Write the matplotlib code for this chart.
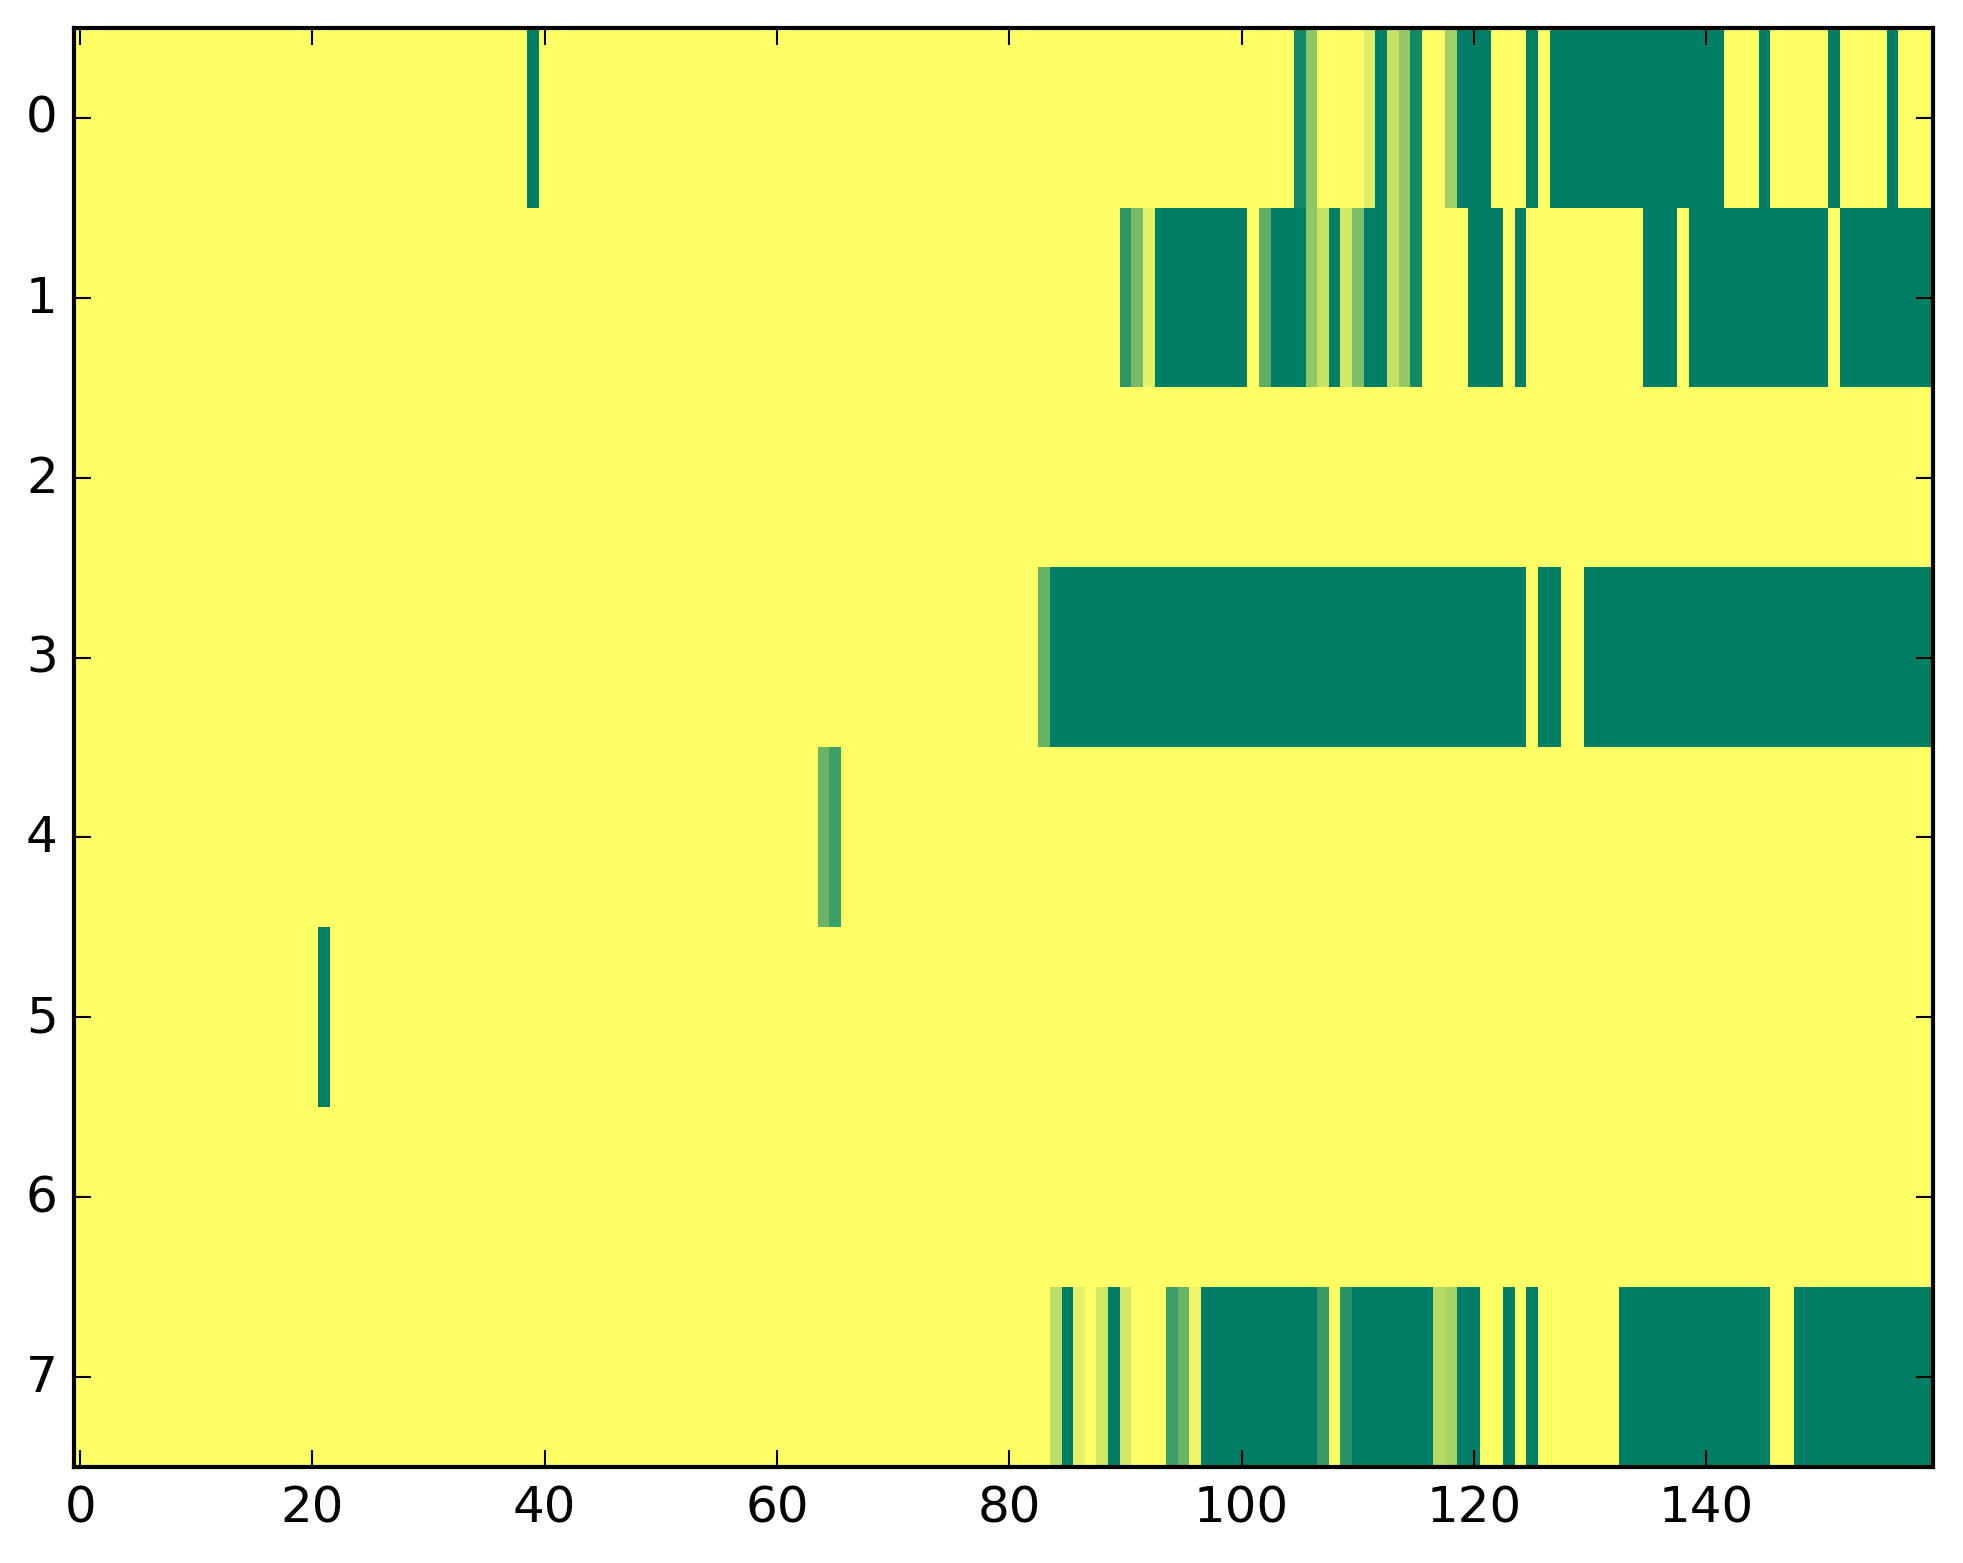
import matplotlib
matplotlib.use("Agg")
import matplotlib.pyplot as plt
import numpy as np

plt.style.use("classic")

n_rows = 8
n_cols = 160

# Cells with full intensity (value 1.0), per row
row0_full = [39, 112, 119, 120, 121, 125, 127, 128, 129, 130, 131, 132, 133, 134, 135,
             136, 137, 138, 139, 140, 141, 145, 151, 156]
row1_full = [93, 94, 95, 96, 97, 98, 99, 100, 103, 104, 105, 108, 111, 112, 120, 121, 122,
             124, 135, 136, 137, 139, 140, 141, 142, 143, 144, 145, 146, 147, 148, 149, 150,
             152, 153, 154, 155, 156, 157, 158, 159]
row2_full = []
row3_full = [84, 85, 86, 87, 88, 89, 90, 91, 92, 93, 94, 95, 96, 97, 98, 99, 100, 101, 102,
             103, 104, 105, 106, 107, 108, 109, 110, 111, 112, 113, 114, 115, 116, 117, 118,
             119, 120, 121, 122, 123, 124, 126, 127, 130, 131, 132, 133, 134, 135, 136, 137,
             138, 139, 140, 141, 142, 143, 144, 145, 146, 147, 148, 149, 150, 151, 152, 153,
             154, 155, 156, 157, 158, 159]
row4_full = []
row5_full = [21]
row6_full = []
row7_full = [85, 89, 97, 98, 99, 100, 101, 102, 103, 104, 105, 106, 110, 111, 112, 113, 114,
             115, 116, 119, 120, 123, 125, 133, 134, 135, 136, 137, 138, 139, 140, 141, 142,
             143, 144, 145, 148, 149, 150, 151, 152, 153, 154, 155, 156, 157, 158, 159]

# Cells with partial intensity, per row: {column: value}
row0_partial = {105: 0.92, 106: 0.44, 111: 0.13, 113: 0.23, 114: 0.42, 115: 0.92, 118: 0.36}
row1_partial = {90: 0.82, 91: 0.53, 92: 0.11, 102: 0.63, 106: 0.44, 107: 0.22, 109: 0.17,
                110: 0.50, 113: 0.23, 114: 0.42, 115: 0.92}
row2_partial = {}
row3_partial = {83: 0.60}
row4_partial = {64: 0.58, 65: 0.76}
row5_partial = {}
row6_partial = {}
row7_partial = {84: 0.26, 86: 0.11, 88: 0.18, 90: 0.17, 94: 0.76, 95: 0.59, 96: 0.07,
                107: 0.78, 109: 0.84, 117: 0.29, 118: 0.35}

x_ticks = [0, 20, 40, 60, 80, 100, 120, 140]
y_ticks = [0, 1, 2, 3, 4, 5, 6, 7]

full_rows = [row0_full, row1_full, row2_full, row3_full, row4_full, row5_full, row6_full, row7_full]
partial_rows = [row0_partial, row1_partial, row2_partial, row3_partial, row4_partial,
                row5_partial, row6_partial, row7_partial]

grid = np.zeros((n_rows, n_cols))
for r in range(n_rows):
    for c in full_rows[r]:
        grid[r, c] = 1.0
    for c, v in partial_rows[r].items():
        grid[r, c] = v

W, H = 1963, 1564
dpi = 300
fig = plt.figure(figsize=(W / dpi, H / dpi), dpi=dpi, facecolor="white")
ax = fig.add_axes([74.4 / W, 1 - 1468 / H, (1932.5 - 74.4) / W, (1468 - 29) / H])
ax.imshow(grid, cmap="summer_r", aspect="auto", interpolation="nearest", vmin=0, vmax=1)
ax.set_xticks(x_ticks)
ax.set_yticks(y_ticks)
ax.set_xlim(-0.5, n_cols - 0.5)
ax.set_ylim(n_rows - 0.5, -0.5)
ax.tick_params(labelsize=12)
fig.savefig("out.png", dpi=dpi, facecolor="white")
